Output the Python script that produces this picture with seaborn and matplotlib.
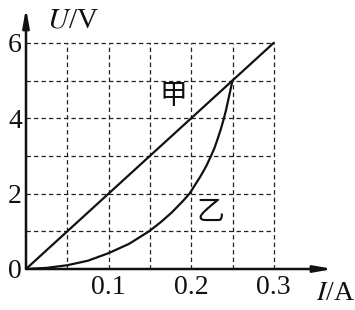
import matplotlib
matplotlib.use("Agg")
import matplotlib.pyplot as plt
import seaborn as sns
import pandas as pd

# data
I_jia = [0.0, 0.3]
U_jia = [0.0, 6.0]
I_yi = [0.0, 0.025, 0.05, 0.075, 0.1, 0.125, 0.149, 0.163, 0.176, 0.189, 0.198, 0.211,
        0.218, 0.224, 0.228, 0.232, 0.236, 0.239, 0.242, 0.245, 0.2475, 0.25]
U_yi = [0.0, 0.03, 0.1, 0.22, 0.42, 0.67, 1.0, 1.24, 1.49, 1.78, 2.0, 2.45,
        2.72, 3.0, 3.2, 3.45, 3.72, 3.95, 4.2, 4.5, 4.75, 5.0]
x_ticks = [0.1, 0.2, 0.3]
x_tick_labels = ["0.1", "0.2", "0.3"]
y_ticks = [0, 2, 4, 6]
y_tick_labels = ["0", "2", "4", "6"]
x_grid = [0.05, 0.1, 0.15, 0.2, 0.25, 0.3]
y_grid = [1, 2, 3, 4, 5, 6]

sns.set_theme(style="white")
plt.rcParams["font.family"] = ["Liberation Serif", "Noto Sans CJK SC", "DejaVu Sans"]
plt.rcParams["mathtext.fontset"] = "stix"

W, H = 355, 310
fig = plt.figure(figsize=(W / 100, H / 100), dpi=100)
x0, y0 = 26, 269
px_per_A = 826.0
px_per_V = 37.7
xmax = (333 - x0) / px_per_A
ymax = (y0 - 8) / px_per_V
ax = fig.add_axes([x0 / W, (H - y0) / H, (333 - x0) / W, (y0 - 8) / H])
ax.set_xlim(0, xmax)
ax.set_ylim(0, ymax)
for s in ax.spines.values():
    s.set_visible(False)

# grid
ax.hlines(y_grid, 0, x_grid[-1], colors="#222222", linestyles=(0, (3.5, 2.5)), linewidth=0.9)
ax.vlines(x_grid, 0, y_grid[-1], colors="#222222", linestyles=(0, (3.5, 2.5)), linewidth=0.9)

df1 = pd.DataFrame({"I": I_jia, "U": U_jia})
df2 = pd.DataFrame({"I": I_yi, "U": U_yi})
sns.lineplot(data=df1, x="I", y="U", ax=ax, color="#111111", linewidth=1.6, sort=False)
sns.lineplot(data=df2, x="I", y="U", ax=ax, color="#111111", linewidth=1.6, sort=False)

# axes arrows
ax.annotate("", xy=(0, 1.0), xytext=(0, 0), xycoords="axes fraction",
            arrowprops=dict(arrowstyle="-|>,head_length=0.9,head_width=0.16", color="#111111", lw=1.8,
                            shrinkA=0, shrinkB=0))
ax.annotate("", xy=(1.0, 0), xytext=(0, 0), xycoords="axes fraction",
            arrowprops=dict(arrowstyle="-|>,head_length=0.9,head_width=0.16", color="#111111", lw=1.8,
                            shrinkA=0, shrinkB=0))

ax.set_xticks(x_ticks)
ax.set_xticklabels(x_tick_labels)
ax.set_yticks(y_ticks)
ax.set_yticklabels(y_tick_labels)
ax.tick_params(axis="both", length=0, labelsize=20, colors="#111111")
ax.tick_params(axis="x", pad=4)
ax.tick_params(axis="y", pad=3)
ax.set_xlabel("")
ax.set_ylabel("")

ax.text(47 / W, 1 - 21 / H, r"$\mathit{U}$/V", transform=fig.transFigure, fontsize=21,
        ha="left", va="center", color="#111111")
ax.text(316 / W, 1 - 294 / H, r"$\mathit{I}$/A", transform=fig.transFigure, fontsize=20,
        ha="left", va="center", color="#111111")
ax.text(173 / W, 1 - 96 / H, "甲", transform=fig.transFigure, fontsize=20,
        ha="center", va="center", color="#111111", family=["Noto Sans CJK SC"])
ax.text(210 / W, 1 - 212 / H, "乙", transform=fig.transFigure, fontsize=20,
        ha="center", va="center", color="#111111", family=["Noto Sans CJK SC"])

fig.savefig("out.png", dpi=100, facecolor="white")
